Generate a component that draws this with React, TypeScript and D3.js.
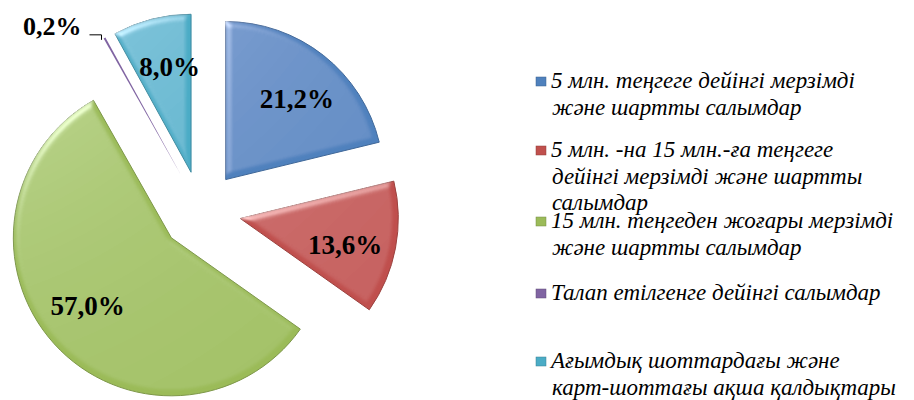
import React from 'react';
import * as d3 from 'd3';

const categories = [
  '5 млн. теңгеге дейінгі мерзімді|және шартты салымдар',
  '5 млн. -на 15 млн.-ға теңгеге|дейінгі мерзімді және шартты|салымдар',
  '15 млн. теңгеден жоғары мерзімді|және шартты салымдар',
  'Талап етілгенге дейінгі салымдар',
  'Ағымдық шоттардағы және|карт-шоттағы ақша қалдықтары',
];
const values = [21.2, 13.6, 57.0, 0.2, 8.0];
const labels = ['21,2%', '13,6%', '57,0%', '0,2%', '8,0%'];
const colors = ['#4F81BD', '#C0504D', '#9BBB59', '#8064A2', '#4BACC6'];
const legendTop = [88, 157, 228, 300, 368];

const FONT = 'Liberation Serif';

const App = () => {
  const cx = 201, cy = 211, r = 158, explode = 40, labelR = 108;
  const labelTurn = (3 * Math.PI) / 180;
  const pie = d3.pie<number>().sort(null).value(d => d);
  const arcs = pie(values);
  const arc = d3.arc<d3.PieArcDatum<number>>().innerRadius(0).outerRadius(r);

  return (
    <svg width={914} height={400} style={{ position: 'absolute', left: 0, top: 0, background: '#fff' }}>
      <defs>
        <filter id="bevel" x="-10%" y="-10%" width="120%" height="120%">
          <feGaussianBlur in="SourceAlpha" stdDeviation={3} result="blur" />
          <feSpecularLighting in="blur" surfaceScale={3} specularConstant={0.5} specularExponent={14}
            lightingColor="#ffffff" result="spec">
            <fePointLight x={-300} y={-400} z={300} />
          </feSpecularLighting>
          <feComposite in="spec" in2="SourceAlpha" operator="in" result="specIn" />
          <feComposite in="SourceGraphic" in2="specIn" operator="arithmetic" k1={0} k2={1} k3={1} k4={0} />
        </filter>
      </defs>

      <g transform={`translate(${cx},${cy})`}>
        {arcs.map((a, i) => {
          const mid = (a.startAngle + a.endAngle) / 2;
          const ox = explode * Math.sin(mid), oy = -explode * Math.cos(mid);
          const big = values[i] >= 1;
          const px = (r - 2) * Math.sin(mid), py = -(r - 2) * Math.cos(mid);
          const la = mid + labelTurn;
          return (
            <g key={i} transform={`translate(${ox},${oy})`}>
              <path
                d={arc(a) as string}
                fill={colors[i]}
                stroke={big ? d3.color(colors[i])!.darker(0.6).toString() : 'none'}
                strokeWidth={1}
                filter={big ? 'url(#bevel)' : undefined}
              />
              {big ? (
                <text
                  x={labelR * Math.sin(la)}
                  y={-labelR * Math.cos(la)}
                  dy="0.35em"
                  textAnchor="middle"
                  style={{ fontFamily: FONT, fontWeight: 'bold', fontSize: 27 }}
                  fill="#000"
                >
                  {labels[i]}
                </text>
              ) : (
                <>
                  <path
                    d={`M${px - 4},${py} L${px - 4},${py - 5} L${px - 16},${py - 5}`}
                    fill="none"
                    stroke="#000"
                    strokeWidth={1}
                  />
                  <text
                    x={px - 24}
                    y={py - 5}
                    textAnchor="end"
                    style={{ fontFamily: FONT, fontWeight: 'bold', fontSize: 26 }}
                    fill="#000"
                  >
                    {labels[i]}
                  </text>
                </>
              )}
            </g>
          );
        })}
      </g>

      <g>
        {categories.map((c, i) => {
          const y0 = legendTop[i];
          return (
            <g key={i}>
              <rect
                x={536} y={y0 - 11} width={10} height={9}
                fill={colors[i]}
                stroke={d3.color(colors[i])!.darker(0.8).toString()}
                strokeWidth={0.5}
              />
              <text y={y0} style={{ fontFamily: FONT, fontStyle: 'italic', fontSize: 23 }} fill="#000">
                {c.split('|').map((line, j) => (
                  <tspan key={j} x={j === 0 ? 551 : 552} dy={j === 0 ? 0 : 26.5}>{line}</tspan>
                ))}
              </text>
            </g>
          );
        })}
      </g>
    </svg>
  );
};

export default App;
